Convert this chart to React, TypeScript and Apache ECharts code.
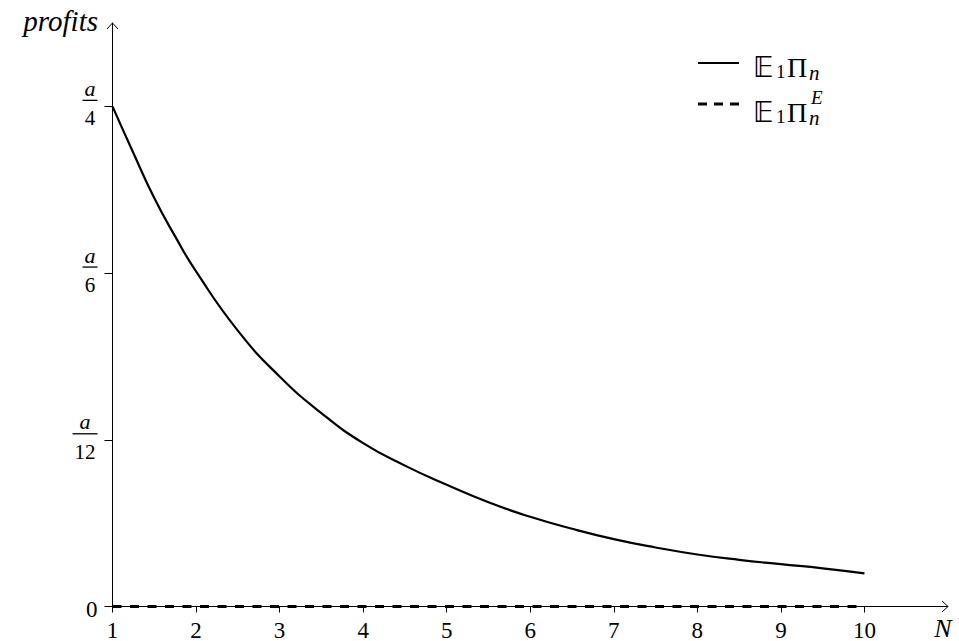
import React, { useEffect, useRef } from "react";
import * as echarts from "echarts";

// N values and expected profits (in units of a/12)
const N_VALUES = [1, 1.25, 1.5, 1.75, 2, 2.5, 3, 3.5, 4, 4.5, 5, 5.5, 6, 6.5, 7, 7.5, 8, 8.5, 9, 9.5, 10];
const PROFIT_VALUES = [3.0, 2.72, 2.45, 2.22, 2.01, 1.655, 1.38, 1.16, 0.98, 0.845, 0.73, 0.625, 0.538, 0.466, 0.404, 0.354, 0.312, 0.28, 0.254, 0.229, 0.199];
const EQUIL_N = [1, 10];
const EQUIL_VALUES = [0, 0];
const X_TICKS = [1, 2, 3, 4, 5, 6, 7, 8, 9, 10];
const Y_TICKS = [0, 1, 2, 3];
const Y_DENOMS = ["", "12", "6", "4"];

const SERIF = "Liberation Serif, serif";
const DS = "DejaVu Sans, DejaVu Serif, serif";

export default function App() {
  const ref = useRef<HTMLDivElement>(null);
  useEffect(() => {
    if (!ref.current) return;
    const chart = echarts.init(ref.current, undefined, { renderer: "svg" });
    const solid = N_VALUES.map((n, i) => [n, PROFIT_VALUES[i]]);
    const dashed = EQUIL_N.map((n, i) => [n, EQUIL_VALUES[i]]);
    chart.setOption({
      animation: false,
      backgroundColor: "#fff",
      textStyle: { fontFamily: SERIF },
      grid: { left: 112.5, right: 11, top: 23, bottom: 34.5, containLabel: false, outerBoundsMode: "none" },
      xAxis: {
        type: "value",
        min: 1,
        max: 11,
        interval: 1,
        splitLine: { show: false },
        axisLine: { onZero: false, lineStyle: { color: "#000", width: 1 } },
        axisTick: { customValues: X_TICKS, length: 6, lineStyle: { color: "#000" } },
        axisLabel: {
          customValues: X_TICKS,
          margin: 12,
          color: "#000",
          fontFamily: SERIF,
          fontSize: 23,
          formatter: (v: number) => String(v),
        },
      },
      yAxis: {
        type: "value",
        min: 0,
        max: 3.5,
        interval: 1,
        splitLine: { show: false },
        axisLine: { onZero: false, lineStyle: { color: "#000", width: 1 } },
        axisTick: { customValues: Y_TICKS, length: 8, lineStyle: { color: "#000" } },
        axisLabel: {
          customValues: Y_TICKS,
          margin: 15,
          color: "#000",
          fontFamily: SERIF,
          fontSize: 20,
          formatter: (v: number) => {
            const i = Y_TICKS.indexOf(v);
            if (i <= 0) return "{z|0}";
            const d = Y_DENOMS[i];
            const s = d.length > 1 ? "w" : "";
            return `{n${s}|a}\n{b${s}| }\n{d${s}|${d}}`;
          },
          rich: {
            z: { fontFamily: SERIF, fontSize: 23, color: "#000", padding: [6, 0, 0, 0] },
            n: { width: 15, align: "center", fontFamily: SERIF, fontStyle: "italic", fontSize: 22, lineHeight: 18, color: "#000" },
            b: { width: 15, height: 1.3, lineHeight: 6, backgroundColor: "#000", fontSize: 1 },
            d: { width: 15, align: "center", fontFamily: SERIF, fontSize: 21, lineHeight: 30, color: "#000" },
            nw: { width: 25, align: "center", fontFamily: SERIF, fontStyle: "italic", fontSize: 22, lineHeight: 18, color: "#000" },
            bw: { width: 25, height: 1.3, lineHeight: 6, backgroundColor: "#000", fontSize: 1 },
            dw: { width: 25, align: "center", fontFamily: SERIF, fontSize: 21, lineHeight: 30, color: "#000" },
          },
        },
      },
      series: [
        {
          name: "E1Pn",
          type: "line",
          data: solid,
          showSymbol: false,
          smooth: true,
          lineStyle: { color: "#000", width: 2.2 },
          z: 3,
        },
        {
          name: "E1PnE",
          type: "line",
          data: dashed,
          showSymbol: false,
          lineStyle: { color: "#000", width: 3, type: [9, 8.5] },
          z: 4,
        },
      ],
    });

    const tipX = chart.convertToPixel({ xAxisIndex: 0, yAxisIndex: 0 }, [11, 0]) as number[];
    const tipY = chart.convertToPixel({ xAxisIndex: 0, yAxisIndex: 0 }, [1, 3.5]) as number[];
    const txt = (x: number, y: number, text: string, size: number, opts: any = {}) => ({
      type: "text",
      x,
      y,
      style: {
        text,
        fill: "#000",
        fontFamily: opts.family || SERIF,
        fontStyle: opts.italic ? "italic" : "normal",
        fontSize: size,
        align: opts.align || "left",
        verticalAlign: "middle",
      },
    });
    chart.setOption({
      graphic: [
        {
          type: "polyline",
          shape: { points: [[tipX[0] - 6, tipX[1] - 5.5], [tipX[0], tipX[1]], [tipX[0] - 6, tipX[1] + 5.5]] },
          style: { stroke: "#000", lineWidth: 1, fill: null },
        },
        {
          type: "polyline",
          shape: { points: [[tipY[0] - 5.5, tipY[1] + 6], [tipY[0], tipY[1]], [tipY[0] + 5.5, tipY[1] + 6]] },
          style: { stroke: "#000", lineWidth: 1, fill: null },
        },
        txt(98, 21, "profits", 29, { italic: true, align: "right" }),
        txt(943, 628, "N", 26, { italic: true, align: "center" }),
        // legend
        { type: "line", shape: { x1: 698, y1: 63, x2: 739, y2: 63 }, style: { stroke: "#000", lineWidth: 2.2 } },
        { type: "line", shape: { x1: 698, y1: 104, x2: 739, y2: 104 }, style: { stroke: "#000", lineWidth: 3, lineDash: [9, 7] } },
        txt(753, 67, "𝔼", 28, { family: DS }),
        txt(776, 71, "1", 19),
        txt(787, 67, "Π", 28),
        txt(809, 73, "n", 21, { italic: true }),
        txt(753, 112, "𝔼", 28, { family: DS }),
        txt(776, 116, "1", 19),
        txt(787, 112, "Π", 28),
        txt(809, 118, "n", 21, { italic: true }),
        txt(811, 97, "E", 19, { italic: true }),
      ],
    });
    return () => chart.dispose();
  }, []);
  return <div ref={ref} style={{ position: "fixed", left: 0, top: 0, width: 959, height: 641 }} />;
}
